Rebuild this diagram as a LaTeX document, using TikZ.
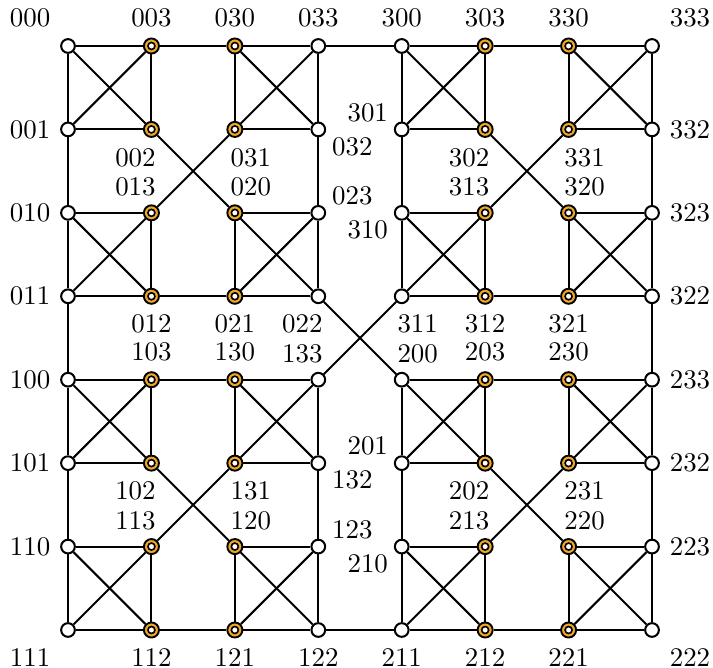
\documentclass[tikz,border=0pt]{standalone}
\usepackage{tikz}
\definecolor{hubcol}{RGB}{240,168,40}
\tikzstyle{vertex}=[circle, draw, fill=white, inner sep=0pt, minimum size=5.1pt, line width=0.75pt]
\tikzstyle{kind0}=[vertex]
\tikzstyle{kind1}=[vertex, minimum size=5.6pt, line width=0.7pt, fill=hubcol,
  path picture={\draw [fill=white, line width=0.6pt] (path picture bounding box.center) circle (1.3pt);}]
\tikzstyle{tag}=[inner sep=0pt]
\tikzstyle{edge}=[line width=0.75pt]
% label offsets
\tikzstyle{lbN}=[yshift=0.366cm]
\tikzstyle{lbS}=[yshift=-0.36cm]
\tikzstyle{lbW}=[xshift=-0.496cm]
\tikzstyle{lbE}=[xshift=0.496cm]
\tikzstyle{lbNW}=[xshift=-0.496cm, yshift=0.366cm]
\tikzstyle{lbNE}=[xshift=0.496cm, yshift=0.366cm]
\tikzstyle{lbSW}=[xshift=-0.496cm, yshift=-0.36cm]
\tikzstyle{lbSE}=[xshift=0.496cm, yshift=-0.36cm]
\tikzstyle{inSW}=[xshift=-0.209cm, yshift=-0.366cm]
\tikzstyle{inSE}=[xshift=0.209cm, yshift=-0.366cm]
\tikzstyle{inNW}=[xshift=-0.209cm, yshift=0.34cm]
\tikzstyle{inNE}=[xshift=0.209cm, yshift=0.34cm]
\tikzstyle{sdSE}=[xshift=0.444cm, yshift=-0.222cm]
\tikzstyle{sdNE}=[xshift=0.444cm, yshift=0.222cm]
\tikzstyle{sdNW}=[xshift=-0.444cm, yshift=0.222cm]
\tikzstyle{sdSW}=[xshift=-0.444cm, yshift=-0.222cm]

\begin{document}
\begin{tikzpicture}[x=1.09cm, y=-1.09cm]
      \useasboundingbox (-0.815,-0.551) rectangle (7.731,7.455);
      \foreach \lab/\pos [count=\i from 0] in {
          000/lbNW,003/lbN,030/lbN,033/lbN,300/lbN,303/lbN,330/lbN,333/lbNE,
          001/lbW,002/inSW,031/inSE,032/sdSE,301/sdNW,302/inSW,331/inSE,332/lbE,
          010/lbW,013/inNW,020/inNE,023/sdNE,310/sdSW,313/inNW,320/inNE,323/lbE,
          011/lbW,012/lbS,021/lbS,022/inSW,311/inSE,312/lbS,321/lbS,322/lbE,
          100/lbW,103/lbN,130/lbN,133/inNW,200/inNE,203/lbN,230/lbN,233/lbE,
          101/lbW,102/inSW,131/inSE,132/sdSE,201/sdNW,202/inSW,231/inSE,232/lbE,
          110/lbW,113/inNW,120/inNE,123/sdNE,210/sdSW,213/inNW,220/inNE,223/lbE,
          111/lbSW,112/lbS,121/lbS,122/lbS,211/lbS,212/lbS,221/lbS,222/lbSE}{
        \pgfmathtruncatemacro\c{mod(\i,8)}
        \pgfmathtruncatemacro\r{div(\i,8)}
        \pgfmathtruncatemacro\k{mod(\c+3,4)<2}
        \node [kind\k] (v-\c-\r) at (\c,\r) {};
        \node [tag, \pos] (t-\c-\r) at (v-\c-\r) {\lab};
      }

      % edges of every level
      \foreach \h in {1,2,4}{
        \pgfmathtruncatemacro\n{4/\h-1}
        \foreach \bi in {0,...,\n}
        \foreach \bj in {0,...,\n}{
          \pgfmathtruncatemacro\xo{2*\h*\bi}
          \pgfmathtruncatemacro\yo{2*\h*\bj}
          \pgfmathtruncatemacro\xa{\xo+\h-1}
          \pgfmathtruncatemacro\xb{\xo+\h}
          \pgfmathtruncatemacro\xe{\xo+2*\h-1}
          \pgfmathtruncatemacro\ya{\yo+\h-1}
          \pgfmathtruncatemacro\yb{\yo+\h}
          \pgfmathtruncatemacro\ye{\yo+2*\h-1}
          \draw [edge] (v-\xa-\yo) -- (v-\xb-\yo);
          \draw [edge] (v-\xo-\ya) -- (v-\xo-\yb);
          \draw [edge] (v-\xa-\ya) -- (v-\xb-\yb);
          \draw [edge] (v-\xb-\ya) -- (v-\xa-\yb);
          \draw [edge] (v-\xe-\ya) -- (v-\xe-\yb);
          \draw [edge] (v-\xa-\ye) -- (v-\xb-\ye);
        }
      }
    \end{tikzpicture}
\end{document}
